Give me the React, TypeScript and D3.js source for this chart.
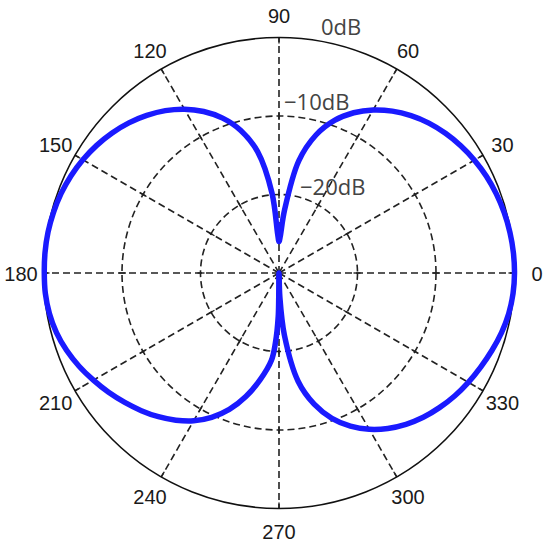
import React, { useEffect, useRef } from 'react';
import * as d3 from 'd3';

// pattern: angle in degrees, gain in dB
const angles = [
  0, 5, 10, 15, 20, 25, 30, 35, 40, 45, 50, 55, 60, 65, 70, 75, 80, 85, 88, 90,
  92, 95, 100, 105, 110, 115, 120, 125, 130, 135, 140, 145, 150, 155, 160, 165, 170, 175, 180,
  185, 190, 195, 200, 205, 210, 215, 220, 225, 230, 235, 240, 245, 250, 255, 260, 265, 267, 269, 270,
  272, 275, 280, 285, 290, 295, 300, 305, 310, 315, 320, 325, 330, 335, 340, 345, 350, 355,
];
const gainDb = [
  0, -0.03, -0.13, -0.3, -0.54, -0.85, -1.25, -1.74, -2.32, -3.0, -3.84, -4.83, -6.02, -7.48, -9.32, -11.8, -15.5, -22.0, -25.3, -26,
  -25.0, -19.8, -14.3, -11.2, -9.0, -7.3, -5.9, -4.75, -3.8, -2.95, -2.25, -1.65, -1.15, -0.75, -0.45, -0.25, -0.12, -0.08, -0.1,
  -0.12, -0.3, -0.65, -1.2, -1.9, -2.7, -3.5, -4.35, -5.2, -6.1, -7.1, -8.25, -9.7, -11.5, -13.7, -16.2, -18.8, -21.0, -24.5, -30,
  -27.0, -22.0, -16.0, -12.7, -10.3, -8.48, -7.02, -5.83, -4.84, -4.01, -3.32, -2.69, -2.15, -1.65, -1.14, -0.65, -0.28, -0.07,
];

const spokeAngles = [0, 30, 60, 90, 120, 150, 180, 210, 240, 270, 300, 330];
const spokeLabels = ['0', '30', '60', '90', '120', '150', '180', '210', '240', '270', '300', '330'];
const ringDb = [-20, -10, 0];
const ringLabels = ['\u221220dB', '\u221210dB', '0dB'];

const App = () => {
  const svgRef = useRef<SVGSVGElement>(null);

  useEffect(() => {
    const width = 550;
    const height = 550;
    const cx = 279;
    const cy = 273;
    const R = 235.5;

    const svg = d3.select(svgRef.current).attr('width', width).attr('height', height);
    svg.selectAll('*').remove();

    const g = svg.append('g').attr('transform', `translate(${cx},${cy})`);

    const r = d3.scaleLinear().domain([-30, 0]).range([0, R]).clamp(true);
    const rad = (deg: number) => (deg * Math.PI) / 180;
    const px = (deg: number, rr: number) => rr * Math.cos(rad(deg));
    const py = (deg: number, rr: number) => -rr * Math.sin(rad(deg));

    // dashed rings
    g.selectAll('.ring')
      .data(ringDb.filter(d => d < 0))
      .enter().append('circle')
      .attr('r', d => r(d))
      .attr('fill', 'none')
      .attr('stroke', '#222')
      .attr('stroke-width', 1.6)
      .attr('stroke-dasharray', '7,4');

    // spokes
    g.selectAll('.spoke')
      .data(spokeAngles)
      .enter().append('line')
      .attr('x1', 0).attr('y1', 0)
      .attr('x2', d => px(d, R)).attr('y2', d => py(d, R))
      .attr('stroke', '#222')
      .attr('stroke-width', 1.6)
      .attr('stroke-dasharray', '7,4');

    // little ticks where spokes meet rings
    ringDb.forEach(db => {
      const rr = r(db);
      const inner = db === 0 ? rr - 6 : rr - 4;
      const outer = db === 0 ? rr : rr + 3;
      g.selectAll(null)
        .data(spokeAngles)
        .enter().append('line')
        .attr('x1', d => px(d, inner)).attr('y1', d => py(d, inner))
        .attr('x2', d => px(d, outer)).attr('y2', d => py(d, outer))
        .attr('stroke', '#222')
        .attr('stroke-width', 1.4);
    });

    // outer circle
    g.append('circle')
      .attr('r', R)
      .attr('fill', 'none')
      .attr('stroke', '#111')
      .attr('stroke-width', 1.6);

    // pattern
    const pts = angles.map((a, i) => [a, gainDb[i]] as [number, number]);
    const line = d3.lineRadial<[number, number]>()
      .angle(d => Math.PI / 2 - rad(d[0]))
      .radius(d => r(d[1]))
      .curve(d3.curveCatmullRomClosed.alpha(0.5));

    g.append('path')
      .attr('d', line(pts))
      .attr('fill', 'none')
      .attr('stroke', '#1a1aff')
      .attr('stroke-width', 5.5)
      .attr('stroke-linejoin', 'round');

    // angle labels
    g.selectAll('.alabel')
      .data(spokeAngles)
      .enter().append('text')
      .attr('x', d => px(d, 258))
      .attr('y', d => py(d, 258) + 1)
      .attr('text-anchor', 'middle')
      .attr('dominant-baseline', 'central')
      .style('font-family', '"Liberation Sans", Arial, sans-serif')
      .style('font-size', '20px')
      .attr('fill', '#1a1a1a')
      .text((d, i) => spokeLabels[i]);

    // dB labels (x offset from centre, baseline height)
    const dbPos = [
      { dx: 21, dy: -78 },
      { dx: 5, dy: -163 },
      { dx: 42, dy: -238 },
    ];
    g.selectAll('.rlabel')
      .data(ringDb)
      .enter().append('text')
      .attr('x', (d, i) => dbPos[i].dx)
      .attr('y', (d, i) => dbPos[i].dy)
      .attr('text-anchor', 'start')
      .style('font-family', '"Open Sans", "Noto Sans", sans-serif')
      .style('font-size', '22px')
      .attr('fill', '#444')
      .text((d, i) => ringLabels[i]);
  }, []);

  return (
    <svg ref={svgRef} style={{ position: 'absolute', left: 0, top: 0 }}></svg>
  );
};

export default App;
